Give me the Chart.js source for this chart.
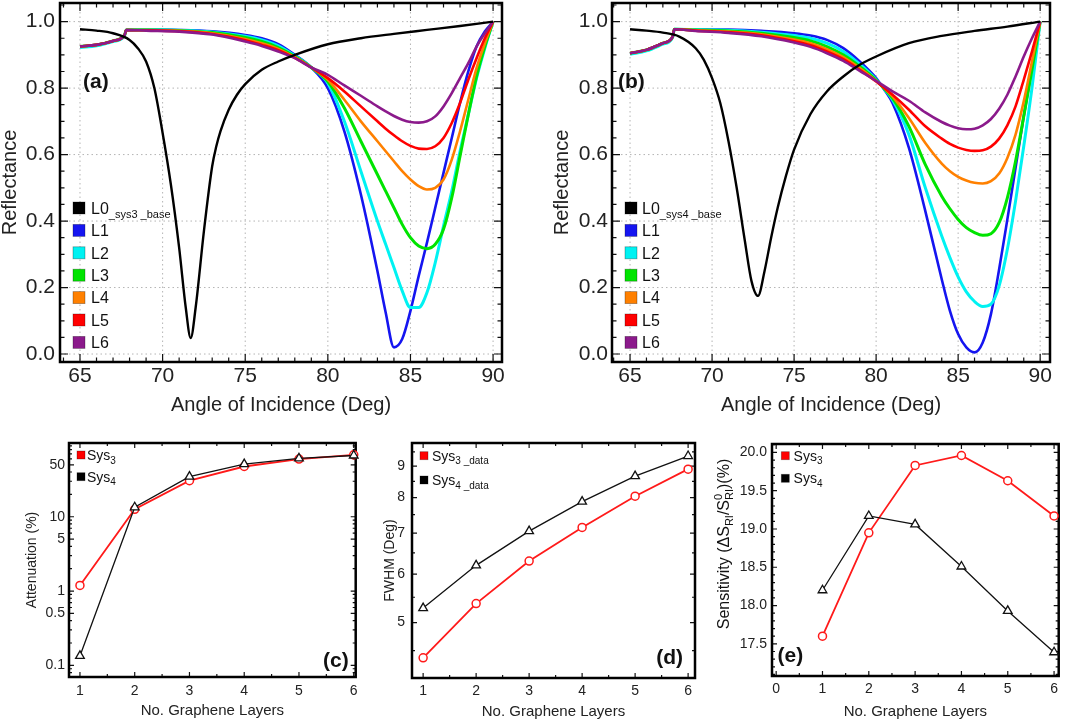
<!DOCTYPE html>
<html>
<head>
<meta charset="utf-8">
<script src="https://cdn.jsdelivr.net/npm/chart.js@4.4.1/dist/chart.umd.min.js"></script>
<style>
  html, body { margin: 0; padding: 0; background: #fff; }
  body { width: 1065px; height: 722px; position: relative; overflow: hidden; }
  .box { position: absolute; }
</style>
</head>
<body>
<div class="box" style="left:0;top:0;width:530px;height:420px"><canvas id="chartA"></canvas></div>
<div class="box" style="left:530px;top:0;width:535px;height:420px"><canvas id="chartB"></canvas></div>
<div class="box" style="left:0;top:425px;width:362px;height:297px"><canvas id="chartC"></canvas></div>
<div class="box" style="left:362px;top:425px;width:343px;height:297px"><canvas id="chartD"></canvas></div>
<div class="box" style="left:705px;top:425px;width:360px;height:297px"><canvas id="chartE"></canvas></div>
<script>
// ---- (a) Sys3 reflectance vs angle ----
var angA = [65, 66, 67, 67.7, 67.8, 69, 71, 73, 75, 76, 77, 78, 79, 80, 81, 82, 83, 83.5, 84, 84.5, 85, 85.5, 86, 86.5, 87, 87.5, 88, 88.5, 89, 89.5, 90];
var a_L1 = [.925, .93, .942, .96, .975, .976, .975, .971, .96, .95, .932, .90, .862, .80, .67, .48, .25, .125, .02, .045, .13, .235, .335, .44, .545, .65, .755, .85, .925, .97, 1];
var a_L2 = [.922, .927, .94, .958, .975, .976, .974, .969, .956, .945, .927, .897, .862, .815, .70, .55, .40, .33, .26, .19, .14, .14, .185, .275, .385, .49, .61, .72, .83, .92, 1];
var a_L3 = [.925, .93, .942, .96, .975, .975, .973, .967, .952, .94, .922, .895, .862, .82, .74, .64, .54, .49, .44, .39, .35, .325, .317, .33, .375, .47, .595, .72, .835, .925, 1];
var a_L4 = [.925, .93, .942, .96, .975, .975, .972, .965, .948, .935, .918, .893, .862, .825, .765, .70, .64, .61, .58, .55, .525, .505, .495, .50, .525, .585, .67, .765, .86, .935, 1];
var a_L5 = [.925, .93, .942, .96, .975, .974, .971, .963, .944, .93, .914, .891, .862, .83, .79, .745, .70, .678, .658, .64, .626, .618, .617, .625, .65, .695, .755, .825, .89, .95, 1];
var a_L6 = [.925, .93, .942, .96, .975, .973, .970, .961, .940, .927, .910, .890, .862, .84, .808, .777, .745, .73, .716, .705, .698, .696, .70, .715, .745, .785, .83, .875, .925, .965, 1];
var angA0 = [65, 66, 67, 68, 68.5, 69, 69.5, 70, 70.5, 71, 71.4, 71.7, 72, 72.5, 73, 73.25, 73.5, 74, 74.5, 75, 76, 77, 78, 80, 82, 84, 86, 88, 90];
var a_L0 = [.977, .973, .965, .945, .92, .88, .80, .665, .51, .32, .14, .048, .14, .37, .565, .625, .67, .735, .78, .812, .855, .88, .90, .932, .95, .963, .975, .987, 1];

// ---- (b) Sys4 reflectance vs angle ----
var angB = [65, 66, 67, 67.6, 67.7, 69, 71, 73, 75, 76, 77, 78, 79, 80, 80.5, 81, 82, 83, 84, 84.5, 85, 85.5, 86, 86.5, 87, 87.5, 88, 88.5, 89, 89.5, 90];
var b_L1 = [.905, .915, .935, .955, .977, .977, .976, .972, .965, .958, .945, .92, .88, .83, .795, .755, .62, .43, .225, .13, .06, .02, .005, .035, .12, .255, .405, .56, .715, .86, 1];
var b_L2 = [.902, .912, .932, .953, .977, .976, .974, .968, .958, .95, .935, .91, .872, .826, .797, .765, .66, .50, .355, .29, .232, .187, .158, .143, .15, .205, .315, .46, .625, .80, 1];
var b_L3 = [.905, .915, .935, .955, .977, .975, .972, .965, .952, .942, .925, .90, .865, .824, .798, .77, .685, .57, .475, .437, .405, .38, .365, .357, .362, .395, .47, .58, .715, .855, 1];
var b_L4 = [.905, .915, .935, .955, .977, .974, .970, .962, .946, .935, .917, .893, .86, .822, .80, .775, .71, .635, .573, .55, .533, .522, .515, .513, .52, .543, .59, .66, .76, .88, 1];
var b_L5 = [.905, .915, .935, .955, .977, .973, .968, .959, .941, .929, .91, .887, .855, .82, .80, .78, .735, .685, .648, .632, .621, .614, .611, .613, .624, .648, .688, .745, .825, .91, 1];
var b_L6 = [.905, .915, .935, .955, .977, .972, .966, .956, .937, .924, .905, .882, .852, .822, .806, .79, .762, .727, .698, .687, .679, .676, .678, .688, .707, .738, .78, .835, .895, .95, 1];
var angB0 = [65, 66, 67, 68, 69, 69.5, 70, 70.5, 71, 71.5, 72, 72.4, 72.8, 73.2, 73.6, 74, 74.5, 75, 76, 77, 78, 79, 80, 82, 84, 86, 88, 90];
var b_L0 = [.977, .973, .967, .955, .92, .885, .83, .755, .64, .50, .34, .22, .175, .25, .35, .44, .535, .615, .722, .79, .835, .87, .895, .935, .957, .972, .985, 1];

// ---- (c)(d)(e) vs number of graphene layers ----
var layers = [1, 2, 3, 4, 5, 6];
var attenSys3 = [1.19, 12.6, 30.6, 47.4, 59.7, 68];
var attenSys4 = [0.134, 13.4, 34.7, 51, 61, 66.7];
var fwhmSys3 = [4.38, 5.37, 6.30, 7.15, 8.04, 8.90];
var fwhmSys4 = [5.28, 6.20, 7.05, 7.88, 8.67, 9.35];
var sensSys3 = [17.6, 18.95, 19.83, 19.96, 19.63, 19.17];
var sensSys4 = [18.2, 19.17, 19.06, 18.51, 17.93, 17.39];

// tick lists
var angTicks = [65, 70, 75, 80, 85, 90];
var angMinor = [64, 66, 67, 68, 69, 71, 72, 73, 74, 76, 77, 78, 79, 81, 82, 83, 84, 86, 87, 88, 89];
var reflTicks = [0, 0.2, 0.4, 0.6, 0.8, 1.0];
var reflMinor = [0.05, 0.1, 0.15, 0.25, 0.3, 0.35, 0.45, 0.5, 0.55, 0.65, 0.7, 0.75, 0.85, 0.9, 0.95, 1.05];
var attenTicks = [0.1, 0.5, 1, 5, 10, 50];
var attenMinor = [0.07, 0.08, 0.09, 0.2, 0.3, 0.4, 0.6, 0.7, 0.8, 0.9, 2, 3, 4, 6, 7, 8, 9, 20, 30, 40, 60, 70, 80, 90];
var fwhmTicks = [5, 6, 7, 8, 9];
var fwhmMinor = [4.5, 5.5, 6.5, 7.5, 8.5, 9.5];
var sensTicks = [17.5, 18.0, 18.5, 19.0, 19.5, 20.0];
var sensMinor = [17.1, 17.2, 17.3, 17.4, 17.6, 17.7, 17.8, 17.9, 18.1, 18.2, 18.3, 18.4, 18.6, 18.7, 18.8, 18.9, 19.1, 19.2, 19.3, 19.4, 19.6, 19.7, 19.8, 19.9, 20.1];
var layerTicks = [1, 2, 3, 4, 5, 6];
var layerTicks0 = [0, 1, 2, 3, 4, 5, 6];
var layerMinor = [0.5, 1.5, 2.5, 3.5, 4.5, 5.5];

var layerNames = ['L1', 'L2', 'L3', 'L4', 'L5', 'L6'];
var layerColors = ['#1515f0', '#00f2f2', '#00e400', '#ff8000', '#ff0000', '#8b1a8b'];

var FONT = 'Liberation Sans';
Chart.defaults.font.family = FONT;
Chart.defaults.color = '#222';
Chart.defaults.animation = false;

function pts(xs, ys) {
  return xs.map(function (x, i) { return {x: x, y: ys[i]}; });
}

function fixTicks(vals) {
  return function (scale) { scale.ticks = vals.map(function (v) { return {value: v}; }); };
}

function fixSize(w, h) {
  return function (scale) {
    if (w) scale.width = w;
    if (h) scale.height = h;
    scale.paddingTop = scale.paddingBottom = scale.paddingLeft = scale.paddingRight = 0;
  };
}

// text with subscripts (1), superscripts (2) or a stacked sup/sub pair (3)
function drawRich(ctx, parts, x, y, size, align) {
  var small = Math.round(size * 0.68);
  var f = function (s) { return s + 'px "' + FONT + '"'; };
  var total = 0;
  var widths = parts.map(function (p) {
    var w;
    if (p[1] === 3) {
      ctx.font = f(small);
      w = Math.max(ctx.measureText(p[0][0]).width, ctx.measureText(p[0][1]).width);
    } else {
      ctx.font = f(p[1] ? small : size);
      w = ctx.measureText(p[0]).width;
    }
    total += w;
    return w;
  });
  var cx = align === 'center' ? x - total / 2 : (align === 'right' ? x - total : x);
  ctx.textAlign = 'left';
  ctx.textBaseline = 'alphabetic';
  parts.forEach(function (p, i) {
    if (p[1] === 0) { ctx.font = f(size); ctx.fillText(p[0], cx, y); }
    else if (p[1] === 1) { ctx.font = f(small); ctx.fillText(p[0], cx, y + size * 0.25); }
    else if (p[1] === 2) { ctx.font = f(small); ctx.fillText(p[0], cx, y - size * 0.42); }
    else { ctx.font = f(small); ctx.fillText(p[0][0], cx, y - size * 0.45); ctx.fillText(p[0][1], cx, y + size * 0.27); }
    cx += widths[i];
  });
}

// frame, inward ticks, dotted grid, legend and panel tag
var deco = {
  id: 'deco',
  beforeDatasetsDraw: function (chart, args, o) {
    var ctx = chart.ctx, a = chart.chartArea, x = chart.scales.x, y = chart.scales.y;
    ctx.save();
    if (o.grid) {
      ctx.strokeStyle = '#b4b4b4';
      ctx.lineWidth = 1;
      ctx.setLineDash([1.5, 3]);
      ctx.beginPath();
      o.xMajor.forEach(function (v) { var p = x.getPixelForValue(v); ctx.moveTo(p, a.top); ctx.lineTo(p, a.bottom); });
      o.yMajor.forEach(function (v) { var p = y.getPixelForValue(v); ctx.moveTo(a.left, p); ctx.lineTo(a.right, p); });
      ctx.stroke();
      ctx.setLineDash([]);
    }
    ctx.strokeStyle = '#111';
    ctx.lineWidth = 1.2;
    ctx.beginPath();
    var vt = function (vals, len) {
      vals.forEach(function (v) {
        var p = x.getPixelForValue(v);
        if (p < a.left || p > a.right) return;
        ctx.moveTo(p, a.bottom); ctx.lineTo(p, a.bottom - len);
        ctx.moveTo(p, a.top); ctx.lineTo(p, a.top + len);
      });
    };
    var ht = function (vals, len) {
      vals.forEach(function (v) {
        var p = y.getPixelForValue(v);
        if (p < a.top || p > a.bottom) return;
        ctx.moveTo(a.left, p); ctx.lineTo(a.left + len, p);
        ctx.moveTo(a.right, p); ctx.lineTo(a.right - len, p);
      });
    };
    vt(o.xMajor, o.tick[0]); vt(o.xMinor, o.tick[1]);
    ht(o.yMajor, o.tick[0]); ht(o.yMinor, o.tick[1]);
    ctx.stroke();
    ctx.lineWidth = o.frame;
    ctx.strokeStyle = '#000';
    ctx.strokeRect(a.left, a.top, a.right - a.left, a.bottom - a.top);
    ctx.restore();
  },
  afterDatasetsDraw: function (chart, args, o) {
    var ctx = chart.ctx, a = chart.chartArea;
    ctx.save();
    var L = o.legend;
    L.rows.forEach(function (r, i) {
      var cy = a.top + L.y + i * L.gap;
      ctx.fillStyle = r[0];
      ctx.fillRect(a.left + L.x, cy - L.box / 2, L.box, L.box);
      ctx.strokeStyle = 'rgba(0,0,0,0.35)';
      ctx.lineWidth = 0.8;
      ctx.strokeRect(a.left + L.x, cy - L.box / 2, L.box, L.box);
      ctx.fillStyle = '#111';
      drawRich(ctx, r[1], a.left + L.tx, cy + L.size * 0.36, L.size, 'left');
    });
    var P = o.tag;
    ctx.fillStyle = '#111';
    ctx.font = 'bold ' + P.size + 'px "' + FONT + '"';
    ctx.textAlign = P.align;
    ctx.textBaseline = 'alphabetic';
    var px = P.fromRight ? a.right + P.x : a.left + P.x;
    var py = P.fromBottom ? a.bottom + P.y : a.top + P.y;
    ctx.fillText(P.text, px, py);
    if (o.yTitle) {
      ctx.translate(o.yTitle.x, (a.top + a.bottom) / 2 + o.yTitle.dy);
      ctx.rotate(-Math.PI / 2);
      drawRich(ctx, o.yTitle.parts, 0, 0, o.yTitle.size, 'center');
    }
    ctx.restore();
  }
};

function reflChart(id, c) {
  var datasets = [{data: pts(c.baseAng, c.base), borderColor: '#000', borderWidth: 2.4, order: 0}];
  c.layers.forEach(function (vals, i) {
    datasets.push({
      data: pts(c.ang, vals),
      borderColor: layerColors[i],
      borderWidth: (i === 1 || i === 2) ? 3 : 2.6,
      order: 6 - i
    });
  });
  var rows = [['#000', [['L0', 0], [c.baseSub, 1]]]];
  layerNames.forEach(function (n, i) { rows.push([layerColors[i], [[n, 0]]]); });
  new Chart(document.getElementById(id), {
    type: 'line',
    data: {datasets: datasets},
    options: {
      responsive: true,
      maintainAspectRatio: false,
      animation: false,
      layout: {padding: {top: 3, right: c.padRight, left: 0, bottom: 0}},
      elements: {point: {radius: 0}, line: {cubicInterpolationMode: 'monotone', fill: false}},
      plugins: {
        legend: {display: false},
        tooltip: {enabled: false},
        deco: {
          grid: true, frame: 2.5, tick: [8, 4.5],
          xMajor: angTicks, xMinor: angMinor, yMajor: reflTicks, yMinor: reflMinor,
          legend: {rows: rows, x: 13, tx: c.legendTx, y: 205, gap: 22.4, box: 12, size: 16},
          tag: {text: c.tag, x: c.tagX, y: 85, size: 21, align: 'left'}
        }
      },
      scales: {
        x: {
          type: 'linear', min: c.xMin, max: c.xMax,
          grid: {display: false, drawTicks: false}, border: {display: false},
          afterBuildTicks: fixTicks(angTicks), afterFit: fixSize(0, 58),
          ticks: {font: {size: 21}, padding: 2, maxRotation: 0, autoSkip: false},
          title: {display: true, text: 'Angle of Incidence (Deg)', font: {size: 20}, padding: {top: 0, bottom: 3}}
        },
        y: {
          type: 'linear', min: -0.024, max: 1.056,
          grid: {display: false, drawTicks: false}, border: {display: false},
          afterBuildTicks: fixTicks(reflTicks), afterFit: fixSize(c.yWidth, 0),
          ticks: {font: {size: 21}, padding: c.yPad, autoSkip: false, callback: function (v) { return v.toFixed(1); }},
          title: {display: true, text: 'Reflectance', font: {size: 20, lineHeight: 1}, padding: {top: c.titlePad, bottom: 0}}
        }
      }
    },
    plugins: [deco]
  });
}

function layerChart(id, c) {
  var datasets = [
    {data: pts(layers, c.s3), borderColor: '#ff1a1a', borderWidth: 1.8, pointStyle: 'circle', pointRadius: 4,
     pointBorderWidth: 1.5, pointBackgroundColor: '#fff', pointBorderColor: '#ff1a1a', clip: false, order: 1},
    {data: pts(layers, c.s4), borderColor: '#111', borderWidth: 1.3, pointStyle: 'triangle', pointRadius: 5,
     pointBorderWidth: 1.3, pointBackgroundColor: '#fff', pointBorderColor: '#111', clip: false, order: 0}
  ];
  new Chart(document.getElementById(id), {
    type: 'line',
    data: {datasets: datasets},
    options: {
      responsive: true,
      maintainAspectRatio: false,
      animation: false,
      layout: {padding: {top: c.padTop, right: c.padRight, left: 0, bottom: 0}},
      elements: {line: {tension: 0, fill: false}},
      plugins: {
        legend: {display: false},
        tooltip: {enabled: false},
        deco: {
          grid: false, frame: 2.5, tick: [5, 3],
          xMajor: c.xTicks, xMinor: layerMinor, yMajor: c.yTicks, yMinor: c.yMinor,
          legend: {rows: [['#ff0000', c.lab3], ['#000', c.lab4]], x: c.legX, tx: c.legTx, y: c.legY, gap: c.legGap, box: 8, size: 14},
          tag: c.tag,
          yTitle: c.yTitleRich
        }
      },
      scales: {
        x: {
          type: 'linear', min: c.xMin, max: c.xMax,
          grid: {display: false, drawTicks: false}, border: {display: false},
          afterBuildTicks: fixTicks(c.xTicks), afterFit: fixSize(0, c.xHeight),
          ticks: {font: {size: 14}, padding: c.xPad, maxRotation: 0, autoSkip: false},
          title: {display: true, text: 'No. Graphene Layers', font: {size: 15}, padding: {top: 0, bottom: c.xTitlePad}}
        },
        y: {
          type: c.yType, min: c.yMin, max: c.yMax,
          grid: {display: false, drawTicks: false}, border: {display: false},
          afterBuildTicks: fixTicks(c.yTicks), afterFit: fixSize(c.yWidth, 0),
          ticks: {font: {size: 14}, padding: c.yPad, autoSkip: false, callback: c.yFmt},
          title: {display: !!c.yTitle, text: c.yTitle || '', font: {size: 14, lineHeight: 1}, padding: {top: c.yTitlePad, bottom: 0}}
        }
      }
    },
    plugins: [deco]
  });
}

reflChart('chartA', {
  ang: angA, layers: [a_L1, a_L2, a_L3, a_L4, a_L5, a_L6], baseAng: angA0, base: a_L0,
  baseSub: '_sys3 _base', tag: '(a)', tagX: 23, legendTx: 31,
  xMin: 63.79, xMax: 90.54, padRight: 28, yWidth: 60, yPad: 5, titlePad: 0
});

reflChart('chartB', {
  ang: angB, layers: [b_L1, b_L2, b_L3, b_L4, b_L5, b_L6], baseAng: angB0, base: b_L0,
  baseSub: '_sys4 _base', tag: '(b)', tagX: 6, legendTx: 30,
  xMin: 63.9, xMax: 90.6, padRight: 15, yWidth: 82, yPad: 4, titlePad: 22
});

var num = function (v) { return String(v); };

layerChart('chartC', {
  s3: attenSys3, s4: attenSys4,
  xMin: 0.8, xMax: 6.036, xTicks: layerTicks, xHeight: 45, xPad: 6, xTitlePad: 2,
  yType: 'logarithmic', yMin: 0.0697, yMax: 98.2, yTicks: attenTicks, yMinor: attenMinor, yFmt: num,
  yWidth: 69, yPad: 4, yTitle: 'Attenuation (%)', yTitlePad: 25,
  padTop: 18, padRight: 4,
  lab3: [['Sys', 0], ['3', 1]], lab4: [['Sys', 0], ['4', 1]], legX: 8, legTx: 18, legY: 12, legGap: 21.7,
  tag: {text: '(c)', x: -7, y: -10, fromRight: true, fromBottom: true, size: 21, align: 'right'}
});

layerChart('chartD', {
  s3: fwhmSys3, s4: fwhmSys4,
  xMin: 0.79, xMax: 6.13, xTicks: layerTicks, xHeight: 44, xPad: 4.5, xTitlePad: 1.3,
  yType: 'logarithmic', yMin: 4.06, yMax: 9.82, yTicks: fwhmTicks, yMinor: fwhmMinor, yFmt: num,
  yWidth: 50, yPad: 7, yTitle: 'FWHM (Deg)', yTitlePad: 21,
  padTop: 18, padRight: 10,
  lab3: [['Sys', 0], ['3 _data', 1]], lab4: [['Sys', 0], ['4 _data', 1]], legX: 8, legTx: 20, legY: 12.7, legGap: 24.3,
  tag: {text: '(d)', x: -12, y: -14, fromRight: true, fromBottom: true, size: 21, align: 'right'}
});

layerChart('chartE', {
  s3: sensSys3, s4: sensSys4,
  xMin: -0.09, xMax: 6.1, xTicks: layerTicks0, xHeight: 46, xPad: 5, xTitlePad: 1.3,
  yType: 'linear', yMin: 17.08, yMax: 20.11, yTicks: sensTicks, yMinor: sensMinor,
  yFmt: function (v) { return v.toFixed(1); },
  yWidth: 67, yPad: 5, yTitle: null, yTitlePad: 0,
  yTitleRich: {x: 24, dy: -16, size: 16, parts: [['Sensitivity (\u0394S', 0], ['RI', 1], ['/S', 0], [['0', 'RI'], 3], [')(%)', 0]]},
  padTop: 19, padRight: 6,
  lab3: [['Sys', 0], ['3', 1]], lab4: [['Sys', 0], ['4', 1]], legX: 9.3, legTx: 21.6, legY: 11.7, legGap: 22.6,
  tag: {text: '(e)', x: 5.5, y: -14, fromRight: false, fromBottom: true, size: 21, align: 'left'}
});
</script>
</body>
</html>
